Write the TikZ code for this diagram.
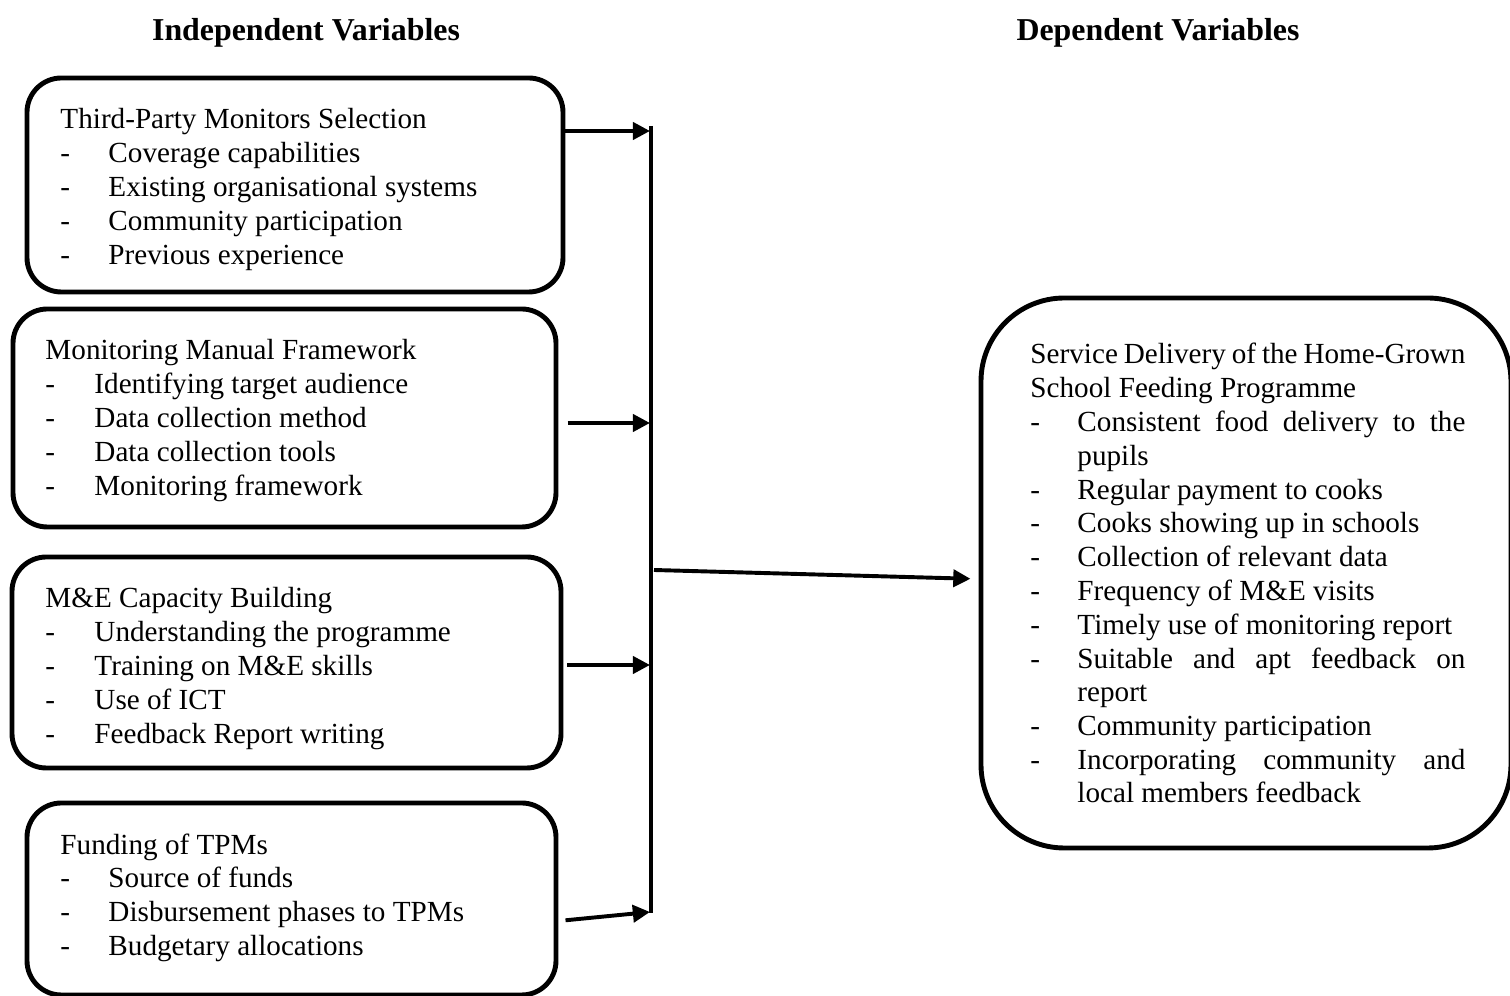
\documentclass[tikz,border=0pt]{standalone}
\usepackage{fontspec}
\setmainfont{Liberation Serif}
\usetikzlibrary{arrows.meta}
\begin{document}
\begin{tikzpicture}[x=0.408pt,y=-0.408pt,
  box/.style={draw, line width=2pt, rounded corners=14pt, inner sep=0pt},
  arr/.style={line width=1.6pt, -{Triangle[length=7pt,width=7pt]}},
  vline/.style={line width=1.3pt},
  txt/.style={anchor=base west, inner sep=0pt, font=\fontsize{11.9}{14}\selectfont},
  hdr/.style={anchor=base, inner sep=0pt, font=\fontsize{13}{15}\selectfont\bfseries}]
\clip (0,0) rectangle (1510,996);
% headers
\node[hdr] (h1) at (306,41) {Independent Variables};
\node[hdr] (h2) at (1158,41) {Dependent Variables};
% boxes
\node[box, minimum width=536*0.408pt, minimum height=214*0.408pt] (b1) at (295,185) {};
\node[box, minimum width=543*0.408pt, minimum height=218*0.408pt] (b2) at (284.5,418) {};
\node[box, minimum width=549*0.408pt, minimum height=211*0.408pt] (b3) at (286.5,662.5) {};
\node[box, minimum width=529*0.408pt, minimum height=192*0.408pt] (b4) at (291.5,899) {};
\node[box, rounded corners=34pt, minimum width=530*0.408pt, minimum height=550*0.408pt] (rb) at (1246,573) {};
% box 1 text
\node[txt] (t1) at (60,129) {Third-Party Monitors Selection};
\foreach \y/\s [count=\i] in {163/Coverage capabilities, 197/Existing organisational systems, 231/Community participation, 265/Previous experience}{
  \node[txt] (da\i) at (60,\y) {-};
  \node[txt] (ia\i) at (108,\y) {\s};
}
% box 2 text
\node[txt] (t2) at (45,360) {Monitoring Manual Framework};
\foreach \y/\s [count=\i] in {394/Identifying target audience, 428/Data collection method, 462/Data collection tools, 496/Monitoring framework}{
  \node[txt] (db\i) at (45,\y) {-};
  \node[txt] (ib\i) at (94,\y) {\s};
}
% box 3 text
\node[txt] (t3) at (45,608) {M\&E Capacity Building};
\foreach \y/\s [count=\i] in {642/Understanding the programme, 676/Training on M\&E skills, 710/Use of ICT, 744/Feedback Report writing}{
  \node[txt] (dc\i) at (45,\y) {-};
  \node[txt] (ic\i) at (94,\y) {\s};
}
% box 4 text
\node[txt] (t4) at (60,855) {Funding of TPMs};
\foreach \y/\s [count=\i] in {888/Source of funds, 922/Disbursement phases to TPMs, 956/Budgetary allocations}{
  \node[txt] (dd\i) at (60,\y) {-};
  \node[txt] (id\i) at (108,\y) {\s};
}
% right box text
\node[txt] (r1) at (1030,364) {\makebox[177.5pt][s]{Service Delivery of the Home-Grown}};
\node[txt] (r2) at (1030,398) {School Feeding Programme};
\foreach \y in {432,500,533,567,601,635,669,736,770}{
  \node[txt] (dr\y) at (1030,\y) {-};
}
\node[txt] (ir1) at (1077,432) {\makebox[158.3pt][s]{Consistent food delivery to the}};
\node[txt] (ir2) at (1077,466) {pupils};
\node[txt] (ir3) at (1077,500) {Regular payment to cooks};
\node[txt] (ir4) at (1077,533) {Cooks showing up in schools};
\node[txt] (ir5) at (1077,567) {Collection of relevant data};
\node[txt] (ir6) at (1077,601) {Frequency of M\&E visits};
\node[txt] (ir7) at (1077,635) {Timely use of monitoring report};
\node[txt] (ir8) at (1077,669) {\makebox[158.3pt][s]{Suitable and apt feedback on}};
\node[txt] (ir9) at (1077,702) {report};
\node[txt] (ir10) at (1077,736) {Community participation};
\node[txt] (ir11) at (1077,770) {\makebox[158.3pt][s]{Incorporating community and}};
\node[txt] (ir12) at (1077,803) {local members feedback};
% connectors
\coordinate (vt) at (651,126);
\coordinate (vb) at (651,913);
\draw[vline] (vt) -- (vb);
\coordinate (a1) at (650,131);
\coordinate (a2) at (650,423);
\coordinate (a3) at (650,665);
\coordinate (a4) at (650,912);
\coordinate (s4) at (556,921);
\draw[arr] (b1.east |- a1) -- (a1);
\draw[arr, shorten <=3.7pt] (b2.east |- a2) -- (a2);
\draw[arr, shorten <=1.6pt] (b3.east |- a3) -- (a3);
\draw[arr, shorten <=2.9pt] (b4.east |- s4) -- (a4);
\coordinate (m) at (654,570);
\coordinate (mt) at (981,579);
\draw[arr, shorten >=3.3pt] (m) -- (rb.west |- mt);
\end{tikzpicture}
\end{document}
